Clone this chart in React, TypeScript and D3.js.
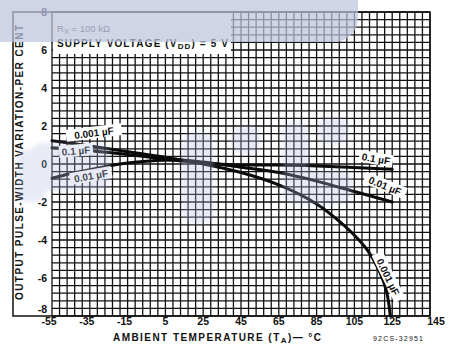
import React from "react";
import * as d3 from "d3";

// Pulse-width variation (%) vs ambient temperature (°C) for three timing capacitors
const TEMP_TICKS = [-55, -35, -15, 5, 25, 45, 65, 85, 105, 125, 145];
const PCT_TICKS = [-8, -6, -4, -2, 0, 2, 4, 6, 8];

const T_C001 = [-55, -35, -15, 5, 25, 45, 65, 85, 95, 105, 112, 118, 122, 124];
const V_C001 = [1.22, 0.95, 0.65, 0.35, 0.0, -0.45, -1.1, -2.1, -2.85, -3.75, -4.55, -5.6, -6.7, -8.0];

const T_C1 = [-55, -35, -15, 5, 25, 45, 65, 85, 105, 125];
const V_C1 = [0.85, 0.7, 0.5, 0.25, 0.05, -0.05, -0.05, -0.1, -0.18, -0.28];

const T_C01 = [-55, -45, -35, -25, -15, -5, 5, 15, 25, 45, 65, 85, 105, 125];
const V_C01 = [-0.75, -0.5, -0.3, -0.1, 0.05, 0.15, 0.2, 0.2, 0.1, -0.17, -0.45, -0.9, -1.45, -2.0];

const W = 451;
const H = 346;

export default function App() {
  const x = d3.scaleLinear().domain([-55, 145]).range([52, 430]);
  const y = d3.scaleLinear().domain([-8, 8]).range([316, 12]);

  const xMinor = d3.range(-55, 145.01, 4);
  const yMinor = d3.range(-8, 8.01, 0.4);

  const line = d3
    .line<[number, number]>()
    .x((d) => x(d[0]))
    .y((d) => y(d[1]))
    .curve(d3.curveCatmullRom.alpha(0.5));

  const series = [
    { t: T_C001, v: V_C001 },
    { t: T_C1, v: V_C1 },
    { t: T_C01, v: V_C01 },
  ];

  const font = "'Liberation Sans', Arial, sans-serif";

  const curveLabel = (
    txt: string,
    cx: number,
    cy: number,
    rot: number,
    w: number,
    key: string
  ) => (
    <g key={key} transform={`translate(${cx},${cy}) rotate(${rot})`}>
      <rect x={-w / 2 - 2} y={-6.5} width={w + 4} height={12} fill="#fff" />
      <text
        x={0}
        y={0}
        dy="0.35em"
        textAnchor="middle"
        fontSize={10}
        fontWeight="bold"
        fontFamily={font}
        fill="#111"
      >
        {txt}
      </text>
    </g>
  );

  return (
    <svg
      width={W}
      height={H}
      style={{ position: "absolute", left: 0, top: 0, background: "#fff" }}
    >
      <defs>
        <filter id="soft" x="-20%" y="-20%" width="140%" height="140%">
          <feGaussianBlur stdDeviation="2" />
        </filter>
      </defs>
      <rect width={W} height={H} fill="#fff" />

      {/* grid */}
      <g stroke="#111" strokeWidth={1.3}>
        {xMinor.map((t) => (
          <line key={"gx" + t} x1={x(t)} x2={x(t)} y1={y(8)} y2={y(-8)} />
        ))}
        {yMinor.map((v) => (
          <line key={"gy" + v.toFixed(1)} x1={x(-55)} x2={x(145)} y1={y(v)} y2={y(v)} />
        ))}
      </g>

      {/* outer frame */}
      <path
        d={`M13,${y(8)} H${x(145)} V${y(-8)} H13 Z`}
        fill="none"
        stroke="#111"
        strokeWidth={1.5}
      />

      {/* conditions box */}
      <rect x={53} y={13} width={178} height={41} fill="#fff" />
      <text x={57} y={32} fontSize={9.5} fontFamily={font} fill="#333">
        R<tspan fontSize={7.5} dy={2}>X</tspan>
        <tspan dy={-2}> = 100 kΩ</tspan>
      </text>
      <text
        x={57}
        y={47}
        fontSize={10}
        fontWeight="bold"
        fontFamily={font}
        fill="#111"
        textLength={171}
        lengthAdjust="spacing"
      >
        SUPPLY VOLTAGE (V<tspan fontSize={8} dy={2}>DD</tspan>
        <tspan dy={-2}>) = 5 V</tspan>
      </text>

      {/* curves */}
      {series.map((s, i) => (
        <path
          key={"c" + i}
          d={line(s.t.map((t, j) => [t, s.v[j]]) as [number, number][]) || ""}
          fill="none"
          stroke="#0a0a0a"
          strokeWidth={3}
          strokeLinecap="round"
        />
      ))}

      {/* curve labels */}
      {curveLabel("0.001 µF", 94, 133, -7, 52, "l1")}
      {curveLabel("0.1 µF", 76, 151, -5, 30, "l2")}
      {curveLabel("0.01 µF", 91, 176, -10, 38, "l3")}
      {curveLabel("0.1 µF", 376, 159, 10, 30, "l4")}
      {curveLabel("0.01 µF", 385, 186, 22, 40, "l5")}
      {curveLabel("0.001 µF", 388, 277, 64, 48, "l6")}

      {/* y tick labels */}
      {PCT_TICKS.map((v) => (
        <text
          key={"yt" + v}
          x={47}
          y={y(v) + (v === -8 ? -7 : 0)}
          dy="0.35em"
          textAnchor="end"
          fontSize={10.5}
          fontWeight="bold"
          fontFamily={font}
          fill="#111"
        >
          {v < 0 ? "-" + Math.abs(v) : v}
        </text>
      ))}

      {/* x tick labels */}
      {TEMP_TICKS.map((t) => (
        <text
          key={"xt" + t}
          x={x(t) + (t === 145 ? 6 : t < 0 ? -3 : 0)}
          y={325}
          textAnchor="middle"
          fontSize={10.5}
          fontWeight="bold"
          fontFamily={font}
          fill="#111"
        >
          {t < 0 ? "-" + Math.abs(t) : t}
        </text>
      ))}

      {/* axis titles */}
      <text
        x={113}
        y={341}
        fontSize={10}
        fontWeight="bold"
        fontFamily={font}
        fill="#111"
        textLength={208}
        lengthAdjust="spacing"
      >
        AMBIENT TEMPERATURE (T<tspan fontSize={8} dy={2}>A</tspan>
        <tspan dy={-2}>)— °C</tspan>
      </text>
      <text
        x={373}
        y={341}
        fontSize={7}
        fontFamily={font}
        fill="#111"
        textLength={50}
        lengthAdjust="spacing"
      >
        92CS-32951
      </text>
      <text
        transform="translate(23,300) rotate(-90)"
        x={0}
        y={0}
        fontSize={10}
        fontWeight="bold"
        fontFamily={font}
        fill="#111"
        textLength={275}
        lengthAdjust="spacing"
      >
        OUTPUT PULSE-WIDTH VARIATION-PER CENT
      </text>

      {/* pale blue overlay band and blotches */}
      <g fill="#bcc4de" opacity={0.72}>
        <path d="M0,0 H358 V18 A24,24 0 0 1 334,42 H0 Z" />
      </g>
      <g fill="#b4c0e2" opacity={0.3} filter="url(#soft)">
        <rect x={30} y={143} width={80} height={48} rx={12} />
        <rect x={182} y={132} width={32} height={92} rx={14} />
        <rect x={232} y={126} width={28} height={28} rx={10} />
        <rect x={283} y={122} width={25} height={82} rx={10} />
        <rect x={290} y={170} width={62} height={34} rx={12} />
        <rect x={318} y={118} width={30} height={26} rx={10} />
        <rect x={17} y={150} width={28} height={52} rx={8} />
      </g>
    </svg>
  );
}
